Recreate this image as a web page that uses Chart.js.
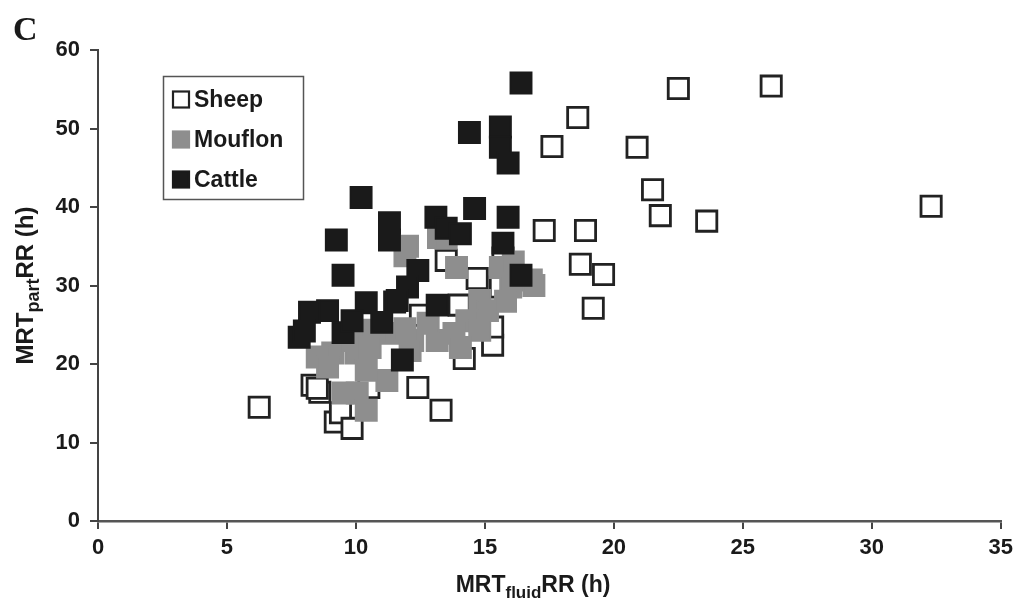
<!DOCTYPE html>
<html>
<head>
<meta charset="utf-8">
<script src="https://cdn.jsdelivr.net/npm/chart.js@4.4.1/dist/chart.umd.min.js"></script>
<style>
  body { margin: 0; background: #fff; }
  canvas { display: block; }
</style>
</head>
<body>
<canvas id="chartMrt" width="1019" height="600"></canvas>
<script>
// values, MRT fluid (x) vs MRT particle (y), hours
const sheepX  = [6.25, 8.3, 8.6, 8.5, 9.2, 9.4, 9.85, 10.5, 12.4, 13.3, 14.2, 15.3, 15.3, 12.5, 13.5, 14.7, 15.6, 14.0, 15.7, 17.3, 18.9, 18.7, 19.6, 19.2, 17.6, 18.6, 20.9, 21.5, 21.8, 23.6, 22.5, 26.1, 32.3];
const sheepY  = [14.5, 17.3, 16.4, 16.9, 12.6, 13.8, 11.8, 17.0, 17.0, 14.1, 20.7, 22.4, 24.7, 26.2, 33.2, 30.9, 29.8, 27.5, 33.5, 37.0, 37.0, 32.7, 31.4, 27.1, 47.7, 51.4, 47.6, 42.2, 38.9, 38.2, 55.1, 55.4, 40.1];

const mouflonX = [11.9, 13.2, 13.5, 13.9, 15.6, 16.1, 16.8, 16.0, 14.8, 15.1, 14.3, 13.8, 13.15, 12.2, 11.3, 10.7, 10.0, 9.1, 8.5, 10.4, 11.2, 10.05, 10.4, 9.5, 9.9, 12.8, 14.8, 14.05, 12.1, 10.55, 8.9, 11.9, 15.8, 16.9, 12.0];
const mouflonY = [33.8, 36.1, 36.0, 32.3, 32.3, 33.0, 30.7, 29.8, 28.1, 26.8, 25.5, 23.9, 23.0, 23.0, 23.9, 24.3, 21.4, 21.4, 20.9, 19.2, 17.9, 16.3, 14.1, 16.3, 23.0, 25.2, 24.3, 22.1, 21.7, 22.1, 19.6, 24.5, 28.0, 30.0, 35.0];

const cattleX = [16.4, 14.4, 15.6, 15.6, 15.9, 10.2, 11.3, 11.3, 13.1, 14.6, 15.9, 13.5, 14.05, 15.7, 9.24, 9.5, 16.4, 12.4, 12.0, 13.15, 11.5, 10.4, 8.9, 8.2, 7.8, 8.0, 9.5, 9.85, 11.0, 11.8, 11.6];
const cattleY = [55.8, 49.5, 50.2, 47.6, 45.6, 41.2, 38.0, 35.8, 38.7, 39.8, 38.7, 37.3, 36.6, 35.4, 35.8, 31.3, 31.3, 31.9, 29.8, 27.5, 27.9, 27.8, 26.8, 26.6, 23.4, 24.2, 24.0, 25.5, 25.3, 20.5, 28.1];

const xTicks = [0, 5, 10, 15, 20, 25, 30, 35];
const yTicks = [0, 10, 20, 30, 40, 50, 60];

const FONT = '"Liberation Sans", Arial, sans-serif';

function toPoints(xs, ys) {
  return xs.map((x, i) => ({ x: x, y: ys[i] }));
}

// axis titles with subscripts, the panel letter and the boxed legend
const extrasPlugin = {
  id: 'extras',
  afterDraw(chart) {
    const ctx = chart.ctx;
    const area = chart.chartArea;
    ctx.save();
    ctx.fillStyle = '#1a1a1a';
    ctx.textBaseline = 'alphabetic';

    // panel letter
    ctx.font = 'bold 34px "Liberation Serif", "Times New Roman", serif';
    ctx.textAlign = 'left';
    ctx.fillText('C', 13, 40);

    // title pieces: [text, isSub]
    function drawTitle(parts, cx, baseY, size) {
      const sub = Math.round(size * 0.74);
      let total = 0;
      parts.forEach(p => {
        ctx.font = 'bold ' + (p[1] ? sub : size) + 'px ' + FONT;
        total += ctx.measureText(p[0]).width;
      });
      let x = cx - total / 2;
      parts.forEach(p => {
        ctx.font = 'bold ' + (p[1] ? sub : size) + 'px ' + FONT;
        ctx.fillText(p[0], x, p[1] ? baseY + 6 : baseY);
        x += ctx.measureText(p[0]).width;
      });
    }

    ctx.textAlign = 'left';
    drawTitle([['MRT', false], ['fluid', true], ['RR (h)', false]], 533, 592, 23);

    ctx.save();
    ctx.translate(33, (area.top + area.bottom) / 2);
    ctx.rotate(-Math.PI / 2);
    drawTitle([['MRT', false], ['part', true], ['RR (h)', false]], 0, 0, 24);
    ctx.restore();

    // legend box
    ctx.lineWidth = 1.5;
    ctx.strokeStyle = '#555';
    ctx.strokeRect(163.5, 76.5, 140, 123);
    const rows = [99, 139, 179];
    chart.data.datasets.slice().reverse().forEach((ds, i) => {
      const cy = rows[i];
      ctx.fillStyle = ds.backgroundColor;
      ctx.fillRect(172.5, cy - 8, 17, 17);
      ctx.lineWidth = 2.2;
      ctx.strokeStyle = ds.borderColor;
      ctx.strokeRect(173, cy - 7.5, 16, 16);
      ctx.fillStyle = '#1a1a1a';
      ctx.font = 'bold 23px ' + FONT;
      ctx.fillText(ds.label, 194, cy + 8);
    });
    ctx.restore();
  }
};

const ctx = document.getElementById('chartMrt').getContext('2d');

const mrtChart = new Chart(ctx, {
  type: 'scatter',
  data: {
    datasets: [
      {
        label: 'Cattle',
        data: toPoints(cattleX, cattleY),
        backgroundColor: '#1a1a1a',
        borderColor: '#1a1a1a',
        borderWidth: 2,
        pointStyle: 'rect',
        pointRadius: 14.8,
        order: 1
      },
      {
        label: 'Mouflon',
        data: toPoints(mouflonX, mouflonY),
        backgroundColor: '#8e8e8e',
        borderColor: '#8e8e8e',
        borderWidth: 2,
        pointStyle: 'rect',
        pointRadius: 14.8,
        order: 2
      },
      {
        label: 'Sheep',
        data: toPoints(sheepX, sheepY),
        backgroundColor: '#ffffff',
        borderColor: '#222222',
        borderWidth: 2.8,
        pointStyle: 'rect',
        pointRadius: 14.3,
        order: 3
      }
    ]
  },
  options: {
    responsive: false,
    devicePixelRatio: 1,
    animation: false,
    clip: false,
    layout: {
      padding: { left: 0, right: 18, top: 50, bottom: 0 }
    },
    plugins: {
      legend: { display: false },
      tooltip: { enabled: false }
    },
    scales: {
      x: {
        type: 'linear',
        min: 0,
        max: 35,
        afterBuildTicks: (scale) => { scale.ticks = xTicks.map(v => ({ value: v })); },
        afterFit: (scale) => { scale.height = 79; },
        border: { display: true, color: '#555', width: 2.5 },
        grid: { drawOnChartArea: false, drawTicks: true, tickLength: 8, color: '#444', lineWidth: 2 },
        ticks: {
          padding: 6,
          color: '#1a1a1a',
          font: { family: FONT, size: 22, weight: 'bold' }
        }
      },
      y: {
        type: 'linear',
        min: 0,
        max: 60,
        afterBuildTicks: (scale) => { scale.ticks = yTicks.map(v => ({ value: v })); },
        afterFit: (scale) => { scale.width = 98; },
        border: { display: true, color: '#444', width: 2 },
        grid: { drawOnChartArea: false, drawTicks: true, tickLength: 8, color: '#444', lineWidth: 2 },
        ticks: {
          padding: 10,
          color: '#1a1a1a',
          font: { family: FONT, size: 22, weight: 'bold' }
        }
      }
    }
  },
  plugins: [extrasPlugin]
});
</script>
</body>
</html>
